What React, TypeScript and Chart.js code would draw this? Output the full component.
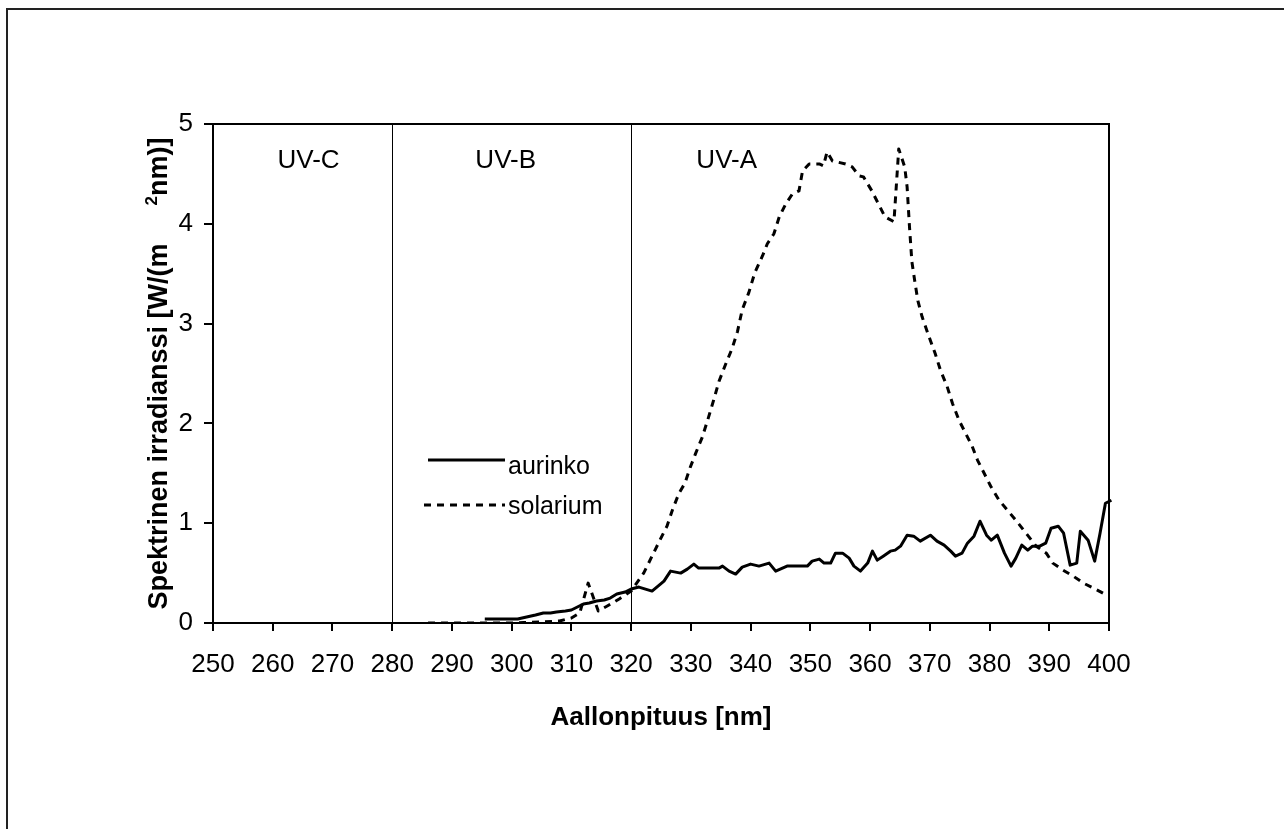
import React, { useEffect, useRef } from "react";
import { Chart, registerables } from "chart.js";

Chart.register(...registerables);

const FONT = '"Liberation Sans", Arial, Helvetica, sans-serif';

// Wavelength [nm], spectral irradiance [W/(m² nm)]
const aurinko: [number, number][] = [
  [295.5, 0.04], [297, 0.04], [299, 0.04], [301, 0.04], [302.5, 0.06], [304, 0.08],
  [305.3, 0.1], [306.5, 0.1], [307.5, 0.11], [309, 0.12], [310, 0.13], [311, 0.16],
  [312, 0.19], [313, 0.2], [314.2, 0.22], [315.5, 0.23], [316.5, 0.25], [317.6, 0.29],
  [319, 0.31], [320, 0.34], [321.3, 0.36], [323.5, 0.32], [325.5, 0.42], [326.6, 0.52],
  [328.3, 0.5], [329.4, 0.54], [330.5, 0.59], [331.3, 0.55], [333, 0.55], [334.7, 0.55],
  [335.3, 0.57], [336.4, 0.52], [337.5, 0.49], [338.6, 0.56], [340, 0.59], [341.4, 0.57],
  [343.1, 0.6], [344.2, 0.52], [346.1, 0.57], [347.8, 0.57], [349.5, 0.57], [350.3, 0.62],
  [351.5, 0.64], [352.3, 0.6], [353.4, 0.6], [354.2, 0.7], [355.4, 0.7], [356.5, 0.65],
  [357.3, 0.57], [358.4, 0.52], [359.6, 0.6], [360.4, 0.72], [361.2, 0.63], [362.2, 0.67],
  [363.4, 0.72], [364.2, 0.73], [365.1, 0.77], [366.2, 0.88], [367.3, 0.87], [368.4, 0.82],
  [370.1, 0.88], [371.2, 0.82], [372.4, 0.78], [373.5, 0.72], [374.3, 0.67], [375.4, 0.7],
  [376.3, 0.8], [377.4, 0.87], [378.4, 1.02], [379.5, 0.88], [380.3, 0.83], [381.3, 0.88],
  [382.5, 0.7], [383.6, 0.57], [384.4, 0.65], [385.4, 0.78], [386.4, 0.73], [387.2, 0.77],
  [388.4, 0.77], [389.4, 0.8], [390.3, 0.95], [391.5, 0.97], [392.4, 0.9], [393.5, 0.58],
  [394.6, 0.6], [395.2, 0.92], [396.5, 0.83], [397.6, 0.62], [398.5, 0.9], [399.4, 1.2],
  [400.4, 1.23],
];

const solarium: [number, number][] = [
  [286, 0], [290, 0], [295, 0], [300, 0], [302, 0.005], [305, 0.01], [308, 0.02],
  [310, 0.05], [311.4, 0.1], [312.8, 0.4], [314.5, 0.12], [316, 0.17], [318, 0.24],
  [320, 0.32], [322.1, 0.5], [323.5, 0.67], [324.9, 0.84], [326, 0.97], [326.9, 1.13],
  [328, 1.3], [329, 1.4], [329.9, 1.56], [330.8, 1.7], [331.9, 1.86], [332.9, 2.05],
  [333.9, 2.25], [334.7, 2.42], [335.8, 2.59], [336.9, 2.75], [337.8, 2.92], [338.6, 3.14],
  [339.7, 3.31], [340.7, 3.51], [342, 3.68], [342.8, 3.8], [343.9, 3.9], [344.8, 4.07],
  [345.9, 4.2], [347, 4.3], [348.1, 4.33], [348.7, 4.53], [349.8, 4.6], [351.5, 4.6],
  [352.2, 4.58], [352.8, 4.72], [353.7, 4.63], [355.9, 4.6], [357, 4.57], [358.2, 4.48],
  [358.9, 4.47], [360.3, 4.33], [361.4, 4.2], [362.5, 4.07], [363.7, 4.03], [364.0, 4.02],
  [364.8, 4.75], [365.8, 4.57], [366.2, 4.37], [366.6, 3.97], [367, 3.62], [367.5, 3.42],
  [368, 3.23], [368.7, 3.07], [369.8, 2.88], [370.9, 2.7], [371.8, 2.53], [372.9, 2.37],
  [373.8, 2.2], [374.9, 2.03], [376, 1.9], [377.1, 1.77], [378, 1.63], [379.1, 1.5],
  [380.2, 1.37], [381.6, 1.23], [383, 1.13], [384.4, 1.03], [386.1, 0.9], [387.8, 0.77],
  [389.5, 0.7], [390.6, 0.6], [392.3, 0.53], [394, 0.47], [395.7, 0.4], [397.4, 0.35],
  [399.6, 0.28],
];

const seriesNames = ["aurinko", "solarium"];
const bandEdges = [280, 320];
const bandLabels = ["UV-C", "UV-B", "UV-A"];
const bandLabelAt = [266, 299, 336];
const xRange = [250, 400];
const xStep = 10;
const yRange = [0, 5];
const yStep = 1;
const xTitle = "Aallonpituus [nm]";
// y title pieces: main text, superscript, rest
const yTitleParts = ["Spektrinen irradianssi [W/(m", "2", "nm)]"];

const overlay = {
  id: "overlay",
  beforeDatasetsDraw(chart: any) {
    const { ctx, chartArea: a, scales } = chart;
    const x = scales.x;
    ctx.save();
    ctx.strokeStyle = "#000";
    ctx.lineWidth = 1;
    bandEdges.forEach((v) => {
      const px = Math.round(x.getPixelForValue(v)) + 0.5;
      ctx.beginPath();
      ctx.moveTo(px, a.top);
      ctx.lineTo(px, a.bottom);
      ctx.stroke();
    });
    ctx.fillStyle = "#000";
    ctx.font = `26px ${FONT}`;
    ctx.textAlign = "center";
    ctx.textBaseline = "alphabetic";
    bandLabels.forEach((t, i) => {
      ctx.fillText(t, x.getPixelForValue(bandLabelAt[i]), a.top + 44);
    });
    ctx.restore();
  },
  afterDraw(chart: any) {
    const { ctx, chartArea: a } = chart;
    ctx.save();
    ctx.strokeStyle = "#000";
    ctx.lineWidth = 2;
    ctx.strokeRect(a.left, a.top, a.right - a.left, a.bottom - a.top);

    // legend
    ctx.lineWidth = 3;
    ctx.beginPath();
    ctx.moveTo(a.left + 215, a.top + 336);
    ctx.lineTo(a.left + 292, a.top + 336);
    ctx.stroke();
    ctx.setLineDash([7, 6]);
    ctx.beginPath();
    ctx.moveTo(a.left + 211, a.top + 381);
    ctx.lineTo(a.left + 292, a.top + 381);
    ctx.stroke();
    ctx.setLineDash([]);
    ctx.fillStyle = "#000";
    ctx.font = `25px ${FONT}`;
    ctx.textAlign = "left";
    ctx.textBaseline = "alphabetic";
    ctx.fillText(seriesNames[0], a.left + 295, a.top + 350);
    ctx.fillText(seriesNames[1], a.left + 295, a.top + 390);

    // y axis title with superscript
    const cx = 157;
    const cy = (a.top + a.bottom) / 2;
    ctx.translate(cx, cy);
    ctx.rotate(-Math.PI / 2);
    const big = `bold 27px ${FONT}`;
    const small = `bold 17px ${FONT}`;
    const gap = 38;
    ctx.font = big;
    const w1 = ctx.measureText(yTitleParts[0]).width;
    const w3 = ctx.measureText(yTitleParts[2]).width;
    ctx.font = small;
    const w2 = ctx.measureText(yTitleParts[1]).width;
    const total = w1 + gap + w2 + w3;
    let sx = -total / 2;
    ctx.textBaseline = "alphabetic";
    ctx.font = big;
    ctx.fillText(yTitleParts[0], sx, 10);
    sx += w1 + gap;
    ctx.font = small;
    ctx.fillText(yTitleParts[1], sx, 0);
    sx += w2;
    ctx.font = big;
    ctx.fillText(yTitleParts[2], sx, 10);
    ctx.restore();
  },
};

export default function App() {
  const ref = useRef<HTMLCanvasElement | null>(null);

  useEffect(() => {
    if (!ref.current) return;
    const chart = new Chart(ref.current, {
      type: "line",
      data: {
        datasets: [
          {
            label: seriesNames[0],
            data: aurinko.map(([x, y]) => ({ x, y })),
            borderColor: "#000",
            borderWidth: 3,
            pointRadius: 0,
            tension: 0,
            fill: false,
            borderJoinStyle: "round",
            clip: false as any,
          },
          {
            label: seriesNames[1],
            data: solarium.map(([x, y]) => ({ x, y })),
            borderColor: "#000",
            borderWidth: 3,
            borderDash: [7, 6],
            pointRadius: 0,
            tension: 0,
            fill: false,
            borderJoinStyle: "round",
          },
        ],
      },
      options: {
        responsive: false,
        animation: false,
        layout: { padding: { top: 124, right: 175, left: 0, bottom: 0 } },
        plugins: {
          legend: { display: false },
          tooltip: { enabled: false },
        },
        scales: {
          x: {
            type: "linear",
            min: xRange[0],
            max: xRange[1],
            afterFit: (s: any) => {
              s.height = 206;
            },
            ticks: {
              stepSize: xStep,
              color: "#000",
              font: { size: 26, family: FONT },
              padding: 18,
              maxRotation: 0,
              autoSkip: false,
            },
            grid: { drawOnChartArea: false, tickLength: 8, color: "#000", lineWidth: 2 },
            border: { color: "#000", width: 2 },
            title: {
              display: true,
              text: xTitle,
              color: "#000",
              font: { size: 26, weight: "bold", family: FONT },
              padding: { top: 0, bottom: 96 },
            },
          },
          y: {
            type: "linear",
            min: yRange[0],
            max: yRange[1],
            afterFit: (s: any) => {
              s.width = 213;
            },
            ticks: {
              stepSize: yStep,
              color: "#000",
              font: { size: 26, family: FONT },
              padding: 11,
            },
            grid: { drawOnChartArea: false, tickLength: 9, color: "#000", lineWidth: 2 },
            border: { color: "#000", width: 2 },
            title: { display: false },
          },
        },
      },
      plugins: [overlay],
    } as any);
    return () => chart.destroy();
  }, []);

  return (
    <div
      style={{
        position: "fixed",
        left: 0,
        top: 0,
        width: 1284,
        height: 829,
        overflow: "hidden",
        background: "#fff",
      }}
    >
      <canvas
        ref={ref}
        width={1284}
        height={829}
        style={{ position: "absolute", left: 0, top: 0, width: 1284, height: 829 }}
      />
      <div
        style={{
          position: "absolute",
          left: 6,
          top: 8,
          width: 1400,
          height: 900,
          border: "2px solid #222",
          boxSizing: "border-box",
          pointerEvents: "none",
        }}
      />
    </div>
  );
}
